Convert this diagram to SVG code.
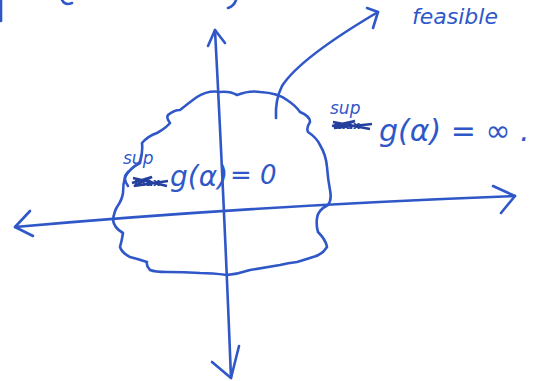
<svg xmlns="http://www.w3.org/2000/svg" width="540" height="381" viewBox="0 0 540 381">
<style>
.ink{fill:none;stroke:#2f57c8;stroke-width:2.6;stroke-linecap:round;stroke-linejoin:round}
.lbl{fill:#2f57c8;font-family:"DejaVu Sans",sans-serif}
.del{fill:#24409e;font-family:"DejaVu Sans",sans-serif;font-weight:bold}
</style>
<rect width="540" height="381" fill="#ffffff"/>
<g id="fragments">
<path class="ink" d="M1,0 L1,21"/>
<path class="ink" d="M62,0 Q65,6 72,3"/>
<path class="ink" d="M236,0 Q234,6 228,8"/>
<text class="lbl" x="412" y="24" font-size="22" font-style="italic">feasible</text>
</g>
<g id="axes">
<path class="ink" d="M215,30 Q224,200 231,378"/>
<path class="ink" d="M208,46 L215,30 L225,43"/>
<path class="ink" d="M212,362 L231,378 L239,346"/>
<path class="ink" d="M15,227 Q250,206 515,196"/>
<path class="ink" d="M30,211 L15,227 L33,236"/>
<path class="ink" d="M493,186 L515,196 L501,213"/>
</g>
<g id="region">
<path class="ink" d="M197,97 Q208,90 220,92 Q230,91 237,95 Q250,90 260,92 Q278,93 287,100 Q296,106 300,112 Q310,116 310,122 Q306,128 308,132 Q317,138 320,145 Q326,155 327,167 Q328,180 330,190 Q332,200 328,205 Q318,210 317,218 Q316,226 318,232 Q326,240 327,247 Q322,255 313,257 Q304,260 297,262 Q288,263 280,265 Q262,268 250,270 Q238,274 227,275 Q212,273 200,273 Q184,272 167,272 Q155,272 150,270 Q146,266 147,262 Q138,259 130,257 Q122,253 120,247 Q122,240 123,233 Q114,228 113,220 Q114,212 117,207 Q122,200 123,193 Q123,184 125,177 Q130,168 140,163 Q143,152 142,143 Q148,136 157,133 Q166,128 170,123 Q166,118 168,115 Q174,110 180,110 Q190,102 197,97 Z"/>
</g>
<g id="pointer">
<path class="ink" d="M276,118 Q275,100 282,86 Q300,58 378,12"/>
<path class="ink" d="M367,8 L378,12 L373,28"/>
</g>
<g id="label-outside">
<text class="lbl" x="330" y="114" font-size="17" font-style="italic">sup</text>
<text class="del" x="334" y="129" font-size="11">max</text>
<path d="M332,126 L355,121 L334,128 L372,124 M333,122 L370,129" fill="none" stroke="#24409e" stroke-width="2.4"/>
<text class="lbl" x="379" y="141" font-size="30" font-style="italic">g(α) = ∞ .</text>
</g>
<g id="label-inside">
<text class="lbl" x="123" y="164" font-size="17" font-style="italic">sup</text>
<path class="ink" d="M128,172 Q122,178 128,186"/>
<text class="del" x="134" y="186" font-size="11">max</text>
<path d="M132,183 L152,177 L134,186 L168,181 M133,178 L167,186" fill="none" stroke="#24409e" stroke-width="2.4"/>
<text class="lbl" x="170" y="186" font-size="28" font-style="italic">g(α)</text>
<text class="lbl" x="230" y="184" font-size="26" font-style="italic">= 0</text>
</g>
</svg>
